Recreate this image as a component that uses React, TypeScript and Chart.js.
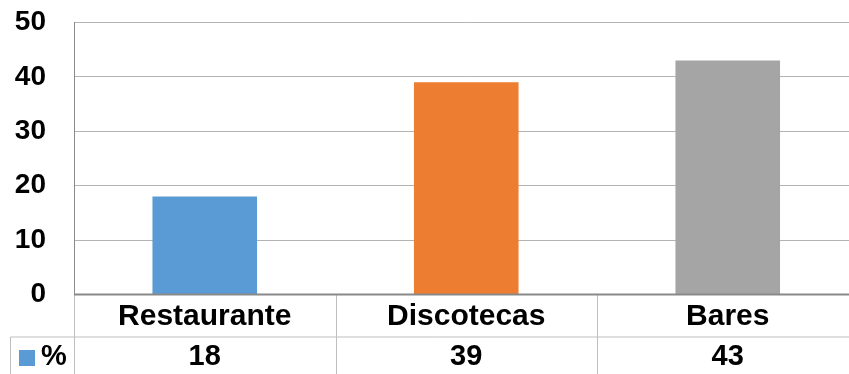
import React, { useEffect, useRef } from "react";
import { Chart, registerables } from "chart.js";

Chart.register(...registerables);

const categories = ["Restaurante", "Discotecas", "Bares"];
const seriesName = "%";
const values = [18, 39, 43];
const barColors = ["#5B9BD5", "#ED7D31", "#A5A5A5"];
const yTicks = [0, 10, 20, 30, 40, 50];

const FONT = "'Liberation Sans', Arial, sans-serif";
const W = 870;
const H = 382;

// Excel-style data table drawn under the plot area, aligned to the category scale
const dataTablePlugin = {
  id: "dataTable",
  afterDraw(chart: any) {
    const { ctx, chartArea, scales } = chart;
    const x = scales.x;
    const step = x.getPixelForValue(1) - x.getPixelForValue(0);
    const left = x.getPixelForValue(0) - step / 2;
    const n = categories.length;
    const right = left + step * n;
    const top = chartArea.bottom;
    const rowH = 42.5;
    const row2 = top + rowH;
    const bottom = row2 + rowH;
    const legendLeft = 10.5;

    ctx.save();
    ctx.strokeStyle = "#BFBFBF";
    ctx.lineWidth = 1;
    ctx.beginPath();
    // horizontal rules
    ctx.moveTo(legendLeft, row2);
    ctx.lineTo(right, row2);
    ctx.moveTo(legendLeft, bottom);
    ctx.lineTo(right, bottom);
    // legend cell left border
    ctx.moveTo(legendLeft, row2);
    ctx.lineTo(legendLeft, bottom);
    // column boundaries
    for (let i = 0; i <= n; i++) {
      const bx = Math.round(left + step * i) + 0.5;
      ctx.moveTo(bx, top);
      ctx.lineTo(bx, bottom);
    }
    ctx.stroke();

    // category axis line
    ctx.strokeStyle = "#898989";
    ctx.lineWidth = 2;
    ctx.beginPath();
    ctx.moveTo(chartArea.left, top);
    ctx.lineTo(chartArea.right, top);
    ctx.stroke();

    ctx.fillStyle = "#000";
    ctx.textAlign = "center";
    ctx.textBaseline = "middle";
    categories.forEach((c, i) => {
      const cx = x.getPixelForValue(i);
      ctx.font = `bold 30px ${FONT}`;
      ctx.fillText(c, cx, top + rowH / 2 + 1);
      ctx.font = `bold 29px ${FONT}`;
      ctx.fillText(String(values[i]), cx, row2 + rowH / 2 - 1);
    });

    // legend key
    ctx.fillStyle = barColors[0];
    ctx.fillRect(19, row2 + 13, 16, 16);
    ctx.fillStyle = "#000";
    ctx.textAlign = "left";
    ctx.font = `bold 29px ${FONT}`;
    ctx.fillText(seriesName, 41, row2 + rowH / 2 - 1);
    ctx.restore();
  },
};

export default function App() {
  const ref = useRef<HTMLCanvasElement | null>(null);

  useEffect(() => {
    if (!ref.current) return;
    const chart = new Chart(ref.current, {
      type: "bar",
      data: {
        labels: categories,
        datasets: [
          {
            label: seriesName,
            data: values,
            backgroundColor: barColors,
            categoryPercentage: 1,
            barPercentage: 0.4,
          },
        ],
      },
      options: {
        responsive: false,
        animation: false,
        devicePixelRatio: 1,
        layout: { padding: { top: 22.5, right: 11.5, bottom: H - 294.5, left: 0 } },
        plugins: {
          legend: { display: false },
          tooltip: { enabled: false },
        },
        scales: {
          x: { display: false },
          y: {
            min: 0,
            max: 50,
            afterBuildTicks: (scale: any) => {
              scale.ticks = yTicks.map((v) => ({ value: v }));
            },
            afterFit: (scale: any) => {
              scale.width = 74;
              scale.paddingTop = 0;
              scale.paddingBottom = 0;
            },
            grid: { color: "#B3B3B3", drawTicks: false, lineWidth: 1 },
            border: { display: true, color: "#898989", width: 1 },
            ticks: {
              padding: 28,
              color: "#000",
              font: { family: FONT, size: 28, weight: "bold" },
            },
          },
        },
      },
      plugins: [dataTablePlugin],
    });
    return () => chart.destroy();
  }, []);

  return (
    <div
      style={{
        position: "fixed",
        left: 0,
        top: 0,
        width: 849,
        height: 374,
        overflow: "hidden",
        background: "#fff",
      }}
    >
      <canvas ref={ref} width={W} height={H} style={{ display: "block" }} />
    </div>
  );
}
